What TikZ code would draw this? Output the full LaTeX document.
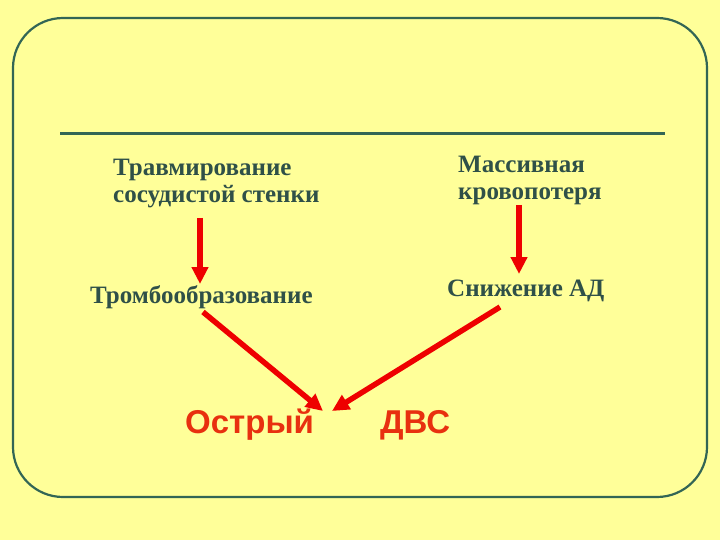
\documentclass[tikz,border=0pt]{standalone}
\usepackage{fontspec}
\setmainfont{Liberation Serif}
\newfontfamily\arialfont{Liberation Sans}
\usetikzlibrary{arrows.meta}
\definecolor{bg}{HTML}{FFFF99}
\definecolor{frame}{HTML}{336655}
\definecolor{txt}{HTML}{2F5048}
\definecolor{arr}{HTML}{EE0000}
\definecolor{big}{HTML}{E8300F}
\tikzset{
  lbl/.style={font=\bfseries\fontsize{25}{27}\selectfont, text=txt, inner sep=0pt, align=left},
  biglbl/.style={font=\arialfont\bfseries\fontsize{33}{36}\selectfont, text=big, inner sep=0pt},
  redarrow/.style={draw=arr, line width=5.5pt, -{Triangle[length=17pt,width=16pt]}}
}
\begin{document}
\begin{tikzpicture}[x=1pt,y=-1pt]
\fill[bg] (0,0) rectangle (720,540);
\useasboundingbox (0,0) rectangle (720,540);
\draw[frame, line width=2.2pt, rounded corners=50pt] (13,18) rectangle (707,497);
\draw[frame, line width=3pt] (60,134) -- (665,134);
\node[lbl, anchor=west] (trav) at (113,184) {Травмирование\\сосудистой стенки};
\node[lbl, anchor=west] (mass) at (458,180) {Массивная\\кровопотеря};
\node[lbl, anchor=west] (tromb) at (90,297) {Тромбообразование};
\node[lbl, anchor=west] (snizh) at (447,291) {Снижение АД};
\node[biglbl, anchor=west] (ostr) at (185,425) {Острый};
\node[biglbl, anchor=west] (dvs) at (380,425) {ДВС};
\coordinate (a1s) at (200,218);
\coordinate (a1e) at (200,284);
\coordinate (a2s) at (519,205);
\coordinate (a2e) at (519,274);
\coordinate (a3s) at (203,312);
\coordinate (a3e) at (323,411);
\coordinate (a4s) at (500,307);
\coordinate (a4e) at (332,411);
\draw[redarrow] (a1s) -- (a1e);
\draw[redarrow] (a2s) -- (a2e);
\draw[redarrow] (a3s) -- (a3e);
\draw[redarrow] (a4s) -- (a4e);
\end{tikzpicture}
\end{document}
